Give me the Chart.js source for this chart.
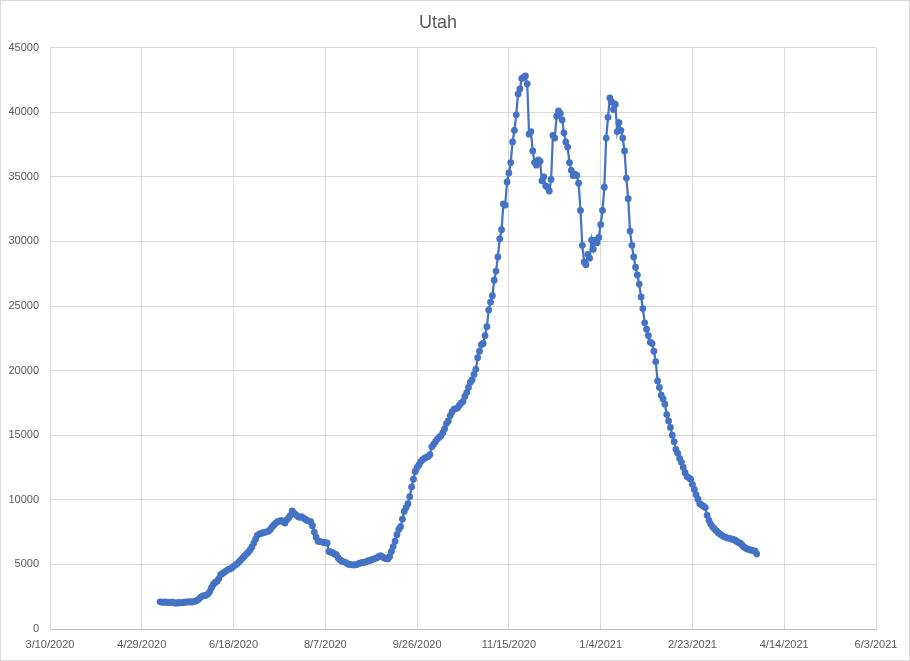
<!DOCTYPE html>
<html>
<head>
<meta charset="utf-8">
<script src="https://cdn.jsdelivr.net/npm/chart.js@4/dist/chart.umd.min.js"></script>
<style>
  html, body { margin: 0; padding: 0; background: #ffffff; }
  #wrap { width: 910px; height: 661px; position: relative; }
</style>
</head>
<body>
<div id="wrap"><canvas id="c" width="910" height="661"></canvas></div>
<script>
// ---- Data ----
const chartTitle = 'Utah';
// Axis origin date (day 0) and the first data date (day offset from origin)
const axisStartDate = '3/10/2020';
const firstDataDay = 60; // 5/9/2020
// Daily values, 5/9/2020 .. 3/30/2021
const values = [
  2100, 2080, 2070, 2090, 2060, 2050, 2080, 2070, 2020, 2000,
  2050, 2030, 2040, 2060, 2100, 2080, 2120, 2090, 2100, 2150,
  2200, 2300, 2450, 2550, 2580, 2620, 2700, 2900, 3200, 3450,
  3600, 3700, 3900, 4200, 4300, 4400, 4500, 4600, 4650, 4720,
  4850, 4950, 5050, 5200, 5350, 5500, 5650, 5800, 5950, 6120,
  6350, 6650, 6950, 7250, 7350, 7400, 7450, 7480, 7520, 7560,
  7700, 7900, 8050, 8200, 8300, 8350, 8400, 8300, 8200, 8450,
  8600, 8800, 9150, 8950, 8850, 8700, 8650, 8700, 8600, 8500,
  8400, 8350, 8300, 8000, 7500, 7100, 6800, 6760, 6750, 6700,
  6680, 6660, 6000, 5950, 5900, 5800, 5750, 5500, 5350, 5250,
  5200, 5150, 5050, 5000, 4980, 4960, 4960, 5000, 5050, 5100,
  5150, 5150, 5200, 5250, 5300, 5350, 5400, 5450, 5500, 5600,
  5680, 5600, 5500, 5450, 5420, 5600, 6000, 6380, 6800, 7300,
  7700, 7920, 8500, 9100, 9400, 9700, 10250, 11000, 11600, 12200,
  12500, 12700, 12960, 13100, 13200, 13300, 13350, 13500, 14100, 14300,
  14500, 14700, 14850, 14950, 15200, 15500, 15900, 16100, 16500, 16800,
  17000, 17050, 17100, 17300, 17500, 17600, 18000, 18300, 18700, 19100,
  19300, 19700, 20100, 21000, 21500, 22000, 22100, 22700, 23400, 24700,
  25300, 25800, 27000, 27700, 28800, 30200, 30900, 32900, 32800, 34600,
  35300, 36100, 37700, 38600, 39800, 41400, 41800, 42600, 42700, 42800,
  42200, 38300, 38500, 37000, 36100, 35900, 36300, 36200, 34700, 35000,
  34300, 34200, 33900, 34800, 38200, 38000, 39700, 40100, 39900, 39400,
  38400, 37700, 37300, 36100, 35500, 35100, 35200, 35100, 34500, 32400,
  29700, 28400, 28200, 29000, 28700, 30100, 29400, 30100, 29900, 30300,
  31300, 32400, 34200, 38000, 39600, 41100, 40800, 40200, 40600, 38500,
  39200, 38600, 38000, 37000, 34900, 33300, 30800, 29700, 28800, 28000,
  27400, 26700, 25700, 24800, 23700, 23200, 22700, 22200, 22100, 21500,
  20700, 19200, 18700, 18100, 17800, 17400, 16600, 16100, 15600, 15000,
  14500, 13900, 13600, 13200, 12900, 12500, 12100, 11800, 11700, 11600,
  11200, 10800, 10400, 10050, 9700, 9600, 9500, 9400, 8800, 8400,
  8100, 7900, 7750, 7600, 7450, 7350, 7250, 7150, 7100, 7050,
  7020, 6980, 6930, 6890, 6800, 6700, 6640, 6500, 6350, 6250,
  6200, 6150, 6100, 6050, 6040, 5810
];
// X tick labels every 50 days from the axis start
const xTickLabels = ['3/10/2020', '4/29/2020', '6/18/2020', '8/7/2020', '9/26/2020',
                     '11/15/2020', '1/4/2021', '2/23/2021', '4/14/2021', '6/3/2021'];
const xTickStep = 50;
const yMax = 45000;
const yStep = 5000;

// ---- Build chart ----
const points = values.map((v, i) => ({ x: firstDataDay + i, y: v }));

const frame = {
  id: 'frame',
  beforeDraw(chart) {
    const ctx = chart.ctx;
    ctx.save();
    ctx.fillStyle = '#ffffff';
    ctx.fillRect(0, 0, chart.width, chart.height);
    ctx.restore();
  },
  afterDraw(chart) {
    const ctx = chart.ctx;
    ctx.save();
    ctx.strokeStyle = '#d9d9d9';
    ctx.lineWidth = 1;
    ctx.strokeRect(0.5, 0.5, chart.width - 1, chart.height - 1);
    ctx.restore();
  }
};

const fontFamily = '"Liberation Sans", Arial, sans-serif';

new Chart(document.getElementById('c'), {
  type: 'line',
  data: {
    datasets: [{
      label: chartTitle,
      data: points,
      borderColor: '#4472C4',
      backgroundColor: '#4472C4',
      borderWidth: 2.25,
      pointRadius: 3.4,
      pointBorderWidth: 0,
      pointBackgroundColor: '#4472C4',
      tension: 0
    }]
  },
  options: {
    responsive: false,
    animation: false,
    layout: { padding: { left: 0, right: 34, top: 0, bottom: 0 } },
    plugins: {
      legend: { display: false },
      tooltip: { enabled: false },
      title: {
        display: true,
        text: chartTitle,
        color: '#595959',
        font: { family: fontFamily, size: 18, weight: 'normal' },
        padding: { top: 12, bottom: 14 }
      }
    },
    scales: {
      x: {
        type: 'linear',
        min: 0,
        max: xTickStep * (xTickLabels.length - 1),
        afterBuildTicks(scale) {
          scale.ticks = xTickLabels.map((_, i) => ({ value: i * xTickStep }));
        },
        ticks: {
          autoSkip: false,
          maxRotation: 0,
          padding: 9,
          color: '#595959',
          font: { family: fontFamily, size: 11 },
          callback: (v, i) => xTickLabels[i]
        },
        grid: { color: '#d9d9d9', drawTicks: false, lineWidth: 1 },
        border: { display: true, color: '#bfbfbf' },
        afterFit(scale) { scale.height = 32; }
      },
      y: {
        min: 0,
        max: yMax,
        ticks: {
          stepSize: yStep,
          padding: 11,
          color: '#595959',
          font: { family: fontFamily, size: 11 },
          callback: (v) => String(v)
        },
        grid: { color: '#d9d9d9', drawTicks: false, lineWidth: 1 },
        border: { display: false },
        afterFit(scale) { scale.width = 50; }
      }
    }
  },
  plugins: [frame]
});
</script>
</body>
</html>
